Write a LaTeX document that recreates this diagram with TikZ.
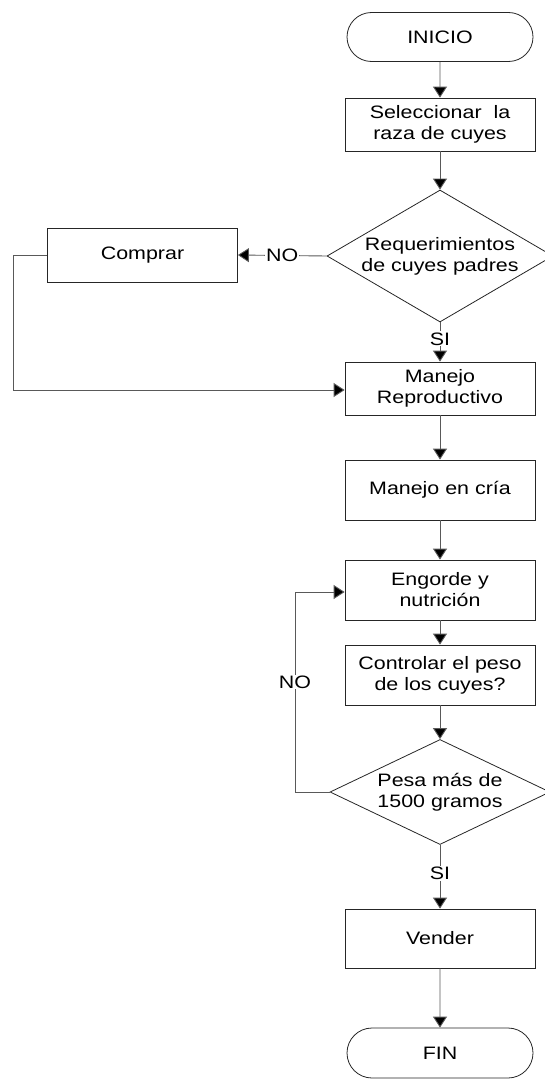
\documentclass[tikz,border=0pt]{standalone}
\usepackage{fontspec}
\setmainfont{Liberation Sans}[FakeStretch=1.19]
\usetikzlibrary{shapes.geometric,shapes.misc,arrows.meta}

\begin{document}
\begin{tikzpicture}[x=1pt,y=-1pt,
  font=\fontsize{18}{21}\selectfont,
  base/.style={draw=black!85, line width=0.8pt, align=center, inner sep=2pt},
  procbox/.style={base, rectangle, minimum width=190pt},
  termbox/.style={base, rounded rectangle, minimum width=190pt, minimum height=49pt},
  decbox/.style={base, diamond, inner sep=0pt},
  flow/.style={draw=black!65, line width=0.9pt, -{Triangle[width=14pt,length=11pt,fill=black]}},
  plain/.style={draw=black!65, line width=0.9pt},
  lbl/.style={fill=white, inner sep=1pt}
]
\useasboundingbox (0,0) rectangle (545,1081);

% main column
\node[termbox] (inicio) at (440,37) {INICIO};
\node[procbox, minimum height=53pt] (sel) at (440,124.5) {Seleccionar~ la\\raza de cuyes};
\node[decbox, aspect=1.71, minimum width=226pt, minimum height=132pt] (req) at (440,256) {Requerimientos\\de cuyes padres};
\node[procbox, minimum height=54pt] (comprar) at (142.5,255) {Comprar};
\node[procbox, minimum height=53pt] (repro) at (440,388.5) {Manejo\\Reproductivo};
\node[procbox, minimum height=60pt] (cria) at (440,490) {Manejo en cría};
\node[procbox, minimum height=60pt] (engorde) at (440,590) {Engorde y\\nutrición};
\node[procbox, minimum height=60pt] (control) at (440,675) {Controlar el peso\\de los cuyes?};
\node[decbox, aspect=2.1, minimum width=220pt, minimum height=105pt] (pesa) at (440,792) {Pesa más de\\1500 gramos};
\node[procbox, minimum height=59pt] (vender) at (440,938.5) {Vender};
\node[termbox, minimum height=50pt] (fin) at (440,1053) {FIN};

% connectors
\draw[flow] (inicio) -- (sel);
\draw[flow] (sel) -- (req);
\draw[flow] (req.west) -- node[lbl, pos=0.5] {NO} (comprar.east);
\coordinate (c1) at (13,255);
\coordinate (c2) at (13,390);
\draw[plain] (comprar.west) -- (c1) -- (c2);
\draw[flow] (c2) -- (repro.west |- c2);
\draw[flow] (req.south) -- node[lbl, pos=0.42] {SI} (repro.north);
\draw[flow] (repro) -- (cria);
\draw[flow] (cria) -- (engorde);
\draw[flow] (engorde) -- (control);
\draw[flow] (control) -- (pesa);
\coordinate (l1) at (295,792);
\coordinate (l2) at (295,592);
\draw[plain] (pesa.west) -- (l1) -- node[lbl, pos=0.55] {NO} (l2);
\draw[flow] (l2) -- (engorde.west |- l2);
\draw[flow] (pesa.south) -- node[lbl, pos=0.45] {SI} (vender.north);
\draw[flow] (vender) -- (fin);
\end{tikzpicture}
\end{document}
